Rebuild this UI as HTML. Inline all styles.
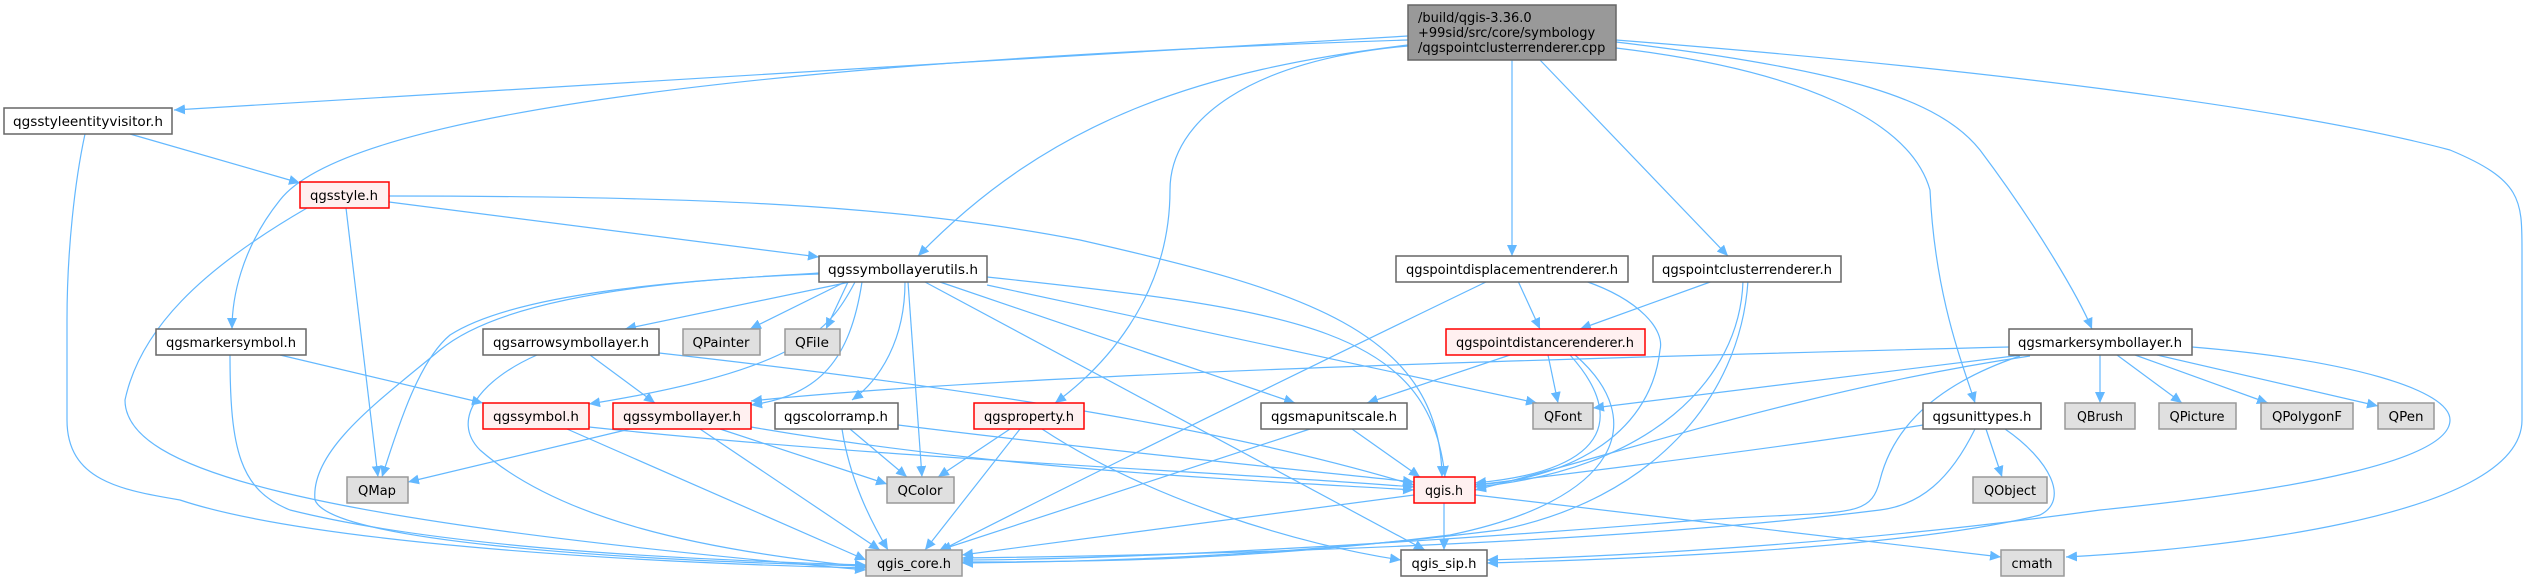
<!DOCTYPE html>
<html><head><meta charset="utf-8"><style>
html,body{margin:0;padding:0;background:#fff;}
svg{display:block;}
text{font-family:"DejaVu Sans","Liberation Sans",sans-serif;font-size:13px;fill:#000;}
.e{fill:none;stroke:#63b8ff;stroke-width:1.2;marker-end:url(#a);}
.n{fill:#fff;stroke:#666;stroke-width:1.5;}
.r{fill:#fff0f0;stroke:#ff0000;stroke-width:1.5;}
.g{fill:#e0e0e0;stroke:#999;stroke-width:1.5;}
</style></head><body>
<svg width="2527" height="579" viewBox="0 0 2527 579" xmlns="http://www.w3.org/2000/svg">
<defs><marker id="a" markerUnits="userSpaceOnUse" markerWidth="12" markerHeight="10" refX="11" refY="5" orient="auto"><path d="M0,0 L11,5 L0,10 z" fill="#63b8ff"/></marker></defs>
<!-- edges -->
<path class="e" d="M1408,36 C1000,60 500,90 174,110"/>
<path class="e" d="M1408,45 C1200,70 1050,120 918,256"/>
<path class="e" d="M1408,40 C800,60 350,110 280,200 C240,250 232,300 232,329"/>
<path class="e" d="M1408,46 C1250,60 1170,120 1170,190 C1170,300 1100,370 1055,403"/>
<path class="e" d="M1512,60 L1512,256"/>
<path class="e" d="M1540,60 L1728,256"/>
<path class="e" d="M1616,48 C1800,70 1910,120 1930,190 C1935,300 1965,370 1975,403"/>
<path class="e" d="M1616,42 C1850,70 1940,100 1980,150 C2040,230 2080,300 2092,329"/>
<path class="e" d="M1616,40 C2000,70 2300,110 2450,150 C2522,180 2522,200 2522,250 L2522,420 C2522,520 2200,550 2066,557"/>
<path class="e" d="M130,134 L300,183"/>
<path class="e" d="M85,134 C75,180 67,250 67,320 L67,420 C67,480 120,490 180,500 C300,540 600,562 866,568"/>
<path class="e" d="M389,202 L819,257"/>
<path class="e" d="M389,196 C700,196 900,205 1080,240 C1300,290 1440,330 1442,477"/>
<path class="e" d="M346,208 L378,477"/>
<path class="e" d="M307,208 C200,270 140,330 125,400 C125,470 300,520 866,570"/>
<path class="e" d="M280,355 L483,403"/>
<path class="e" d="M230,355 C230,450 240,490 290,510 C450,550 700,560 866,565"/>
<path class="e" d="M819,273 C700,280 520,290 450,335 C420,360 400,420 382,477"/>
<path class="e" d="M819,274 C650,280 500,300 440,350 C380,400 310,450 315,500 C330,540 600,560 866,566"/>
<path class="e" d="M850,282 L625,329"/>
<path class="e" d="M845,282 L750,329"/>
<path class="e" d="M848,282 L826,329"/>
<path class="e" d="M855,282 C830,330 800,370 589,404"/>
<path class="e" d="M862,282 C850,360 820,395 751,405"/>
<path class="e" d="M905,282 C905,340 880,380 852,400"/>
<path class="e" d="M908,282 L922,477"/>
<path class="e" d="M940,282 L1295,403"/>
<path class="e" d="M925,282 L1425,550"/>
<path class="e" d="M987,285 L1537,403"/>
<path class="e" d="M987,277 C1300,310 1430,330 1445,477"/>
<path class="e" d="M590,355 L655,403"/>
<path class="e" d="M537,355 C480,380 450,420 480,450 C560,520 700,550 866,567"/>
<path class="e" d="M659,353 C900,380 1200,420 1414,485"/>
<path class="e" d="M567,429 L866,560"/>
<path class="e" d="M589,427 C900,460 1200,470 1414,487"/>
<path class="e" d="M630,429 L408,482"/>
<path class="e" d="M700,429 L880,550"/>
<path class="e" d="M720,429 L887,484"/>
<path class="e" d="M751,427 C1000,470 1250,480 1414,490"/>
<path class="e" d="M850,429 L907,477"/>
<path class="e" d="M842,429 C850,480 870,520 888,550"/>
<path class="e" d="M898,425 C1100,450 1300,470 1414,482"/>
<path class="e" d="M1010,429 L938,477"/>
<path class="e" d="M1020,429 L925,550"/>
<path class="e" d="M1042,429 C1150,500 1300,545 1401,560"/>
<path class="e" d="M1352,429 L1420,477"/>
<path class="e" d="M1310,429 L940,550"/>
<path class="e" d="M1518,281 L1540,329"/>
<path class="e" d="M1488,281 C1200,420 1000,520 938,552"/>
<path class="e" d="M1585,281 C1640,300 1665,330 1660,350 C1650,440 1560,480 1475,485"/>
<path class="e" d="M1713,281 L1580,329"/>
<path class="e" d="M1743,281 C1740,380 1650,470 1475,487"/>
<path class="e" d="M1748,281 C1740,400 1650,500 1500,530 C1300,555 1100,562 962,563"/>
<path class="e" d="M1510,355 L1367,403"/>
<path class="e" d="M1548,355 L1558,403"/>
<path class="e" d="M1570,355 C1620,410 1620,470 1475,483"/>
<path class="e" d="M1575,355 C1650,420 1620,500 1450,535 C1250,560 1100,562 962,562"/>
<path class="e" d="M2009,347 C1500,360 1000,375 751,401"/>
<path class="e" d="M2022,355 L1593,408"/>
<path class="e" d="M2030,356 C1800,390 1600,460 1475,490"/>
<path class="e" d="M2020,356 C1920,390 1890,440 1880,480 C1870,520 1850,510 1700,520 C1400,545 1100,560 962,560"/>
<path class="e" d="M2100,355 L2100,403"/>
<path class="e" d="M2117,355 L2182,403"/>
<path class="e" d="M2135,355 L2268,403"/>
<path class="e" d="M2157,355 L2378,406"/>
<path class="e" d="M2192,347 C2350,360 2450,390 2450,420 C2450,460 2300,490 2100,510 C1850,545 1600,557 1487,560"/>
<path class="e" d="M1923,425 C1800,445 1600,470 1475,485"/>
<path class="e" d="M1986,429 L2002,477"/>
<path class="e" d="M2005,429 C2050,460 2070,500 2040,515 C1900,550 1600,560 1487,563"/>
<path class="e" d="M1975,429 C1950,480 1920,505 1880,510 C1600,545 1200,555 962,558"/>
<path class="e" d="M1414,495 L962,555"/>
<path class="e" d="M1444,503 L1444,550"/>
<path class="e" d="M1475,495 L2001,557"/>
<!-- nodes -->
<rect x="1408" y="5" width="208" height="55" fill="#999" stroke="#666" stroke-width="1.5"/>
<text x="1418" y="22">/build/qgis-3.36.0</text>
<text x="1418" y="37">+99sid/src/core/symbology</text>
<text x="1418" y="52">/qgspointclusterrenderer.cpp</text>
<g text-anchor="middle">
<rect class="n" x="4" y="108" width="168" height="26"/><text x="88" y="126" textLength="150" lengthAdjust="spacingAndGlyphs">qgsstyleentityvisitor.h</text>
<rect class="r" x="300" y="182" width="89" height="26"/><text x="344" y="200" textLength="68" lengthAdjust="spacingAndGlyphs">qgsstyle.h</text>
<rect class="n" x="819" y="256" width="168" height="26"/><text x="903" y="274" textLength="150" lengthAdjust="spacingAndGlyphs">qgssymbollayerutils.h</text>
<rect class="n" x="1396" y="256" width="232" height="26"/><text x="1512" y="274" textLength="212" lengthAdjust="spacingAndGlyphs">qgspointdisplacementrenderer.h</text>
<rect class="n" x="1653" y="256" width="188" height="26"/><text x="1747" y="274" textLength="170" lengthAdjust="spacingAndGlyphs">qgspointclusterrenderer.h</text>
<rect class="n" x="156" y="329" width="150" height="26"/><text x="231" y="347" textLength="130" lengthAdjust="spacingAndGlyphs">qgsmarkersymbol.h</text>
<rect class="n" x="483" y="329" width="176" height="26"/><text x="571" y="347" textLength="156" lengthAdjust="spacingAndGlyphs">qgsarrowsymbollayer.h</text>
<rect class="g" x="683" y="329" width="77" height="26"/><text x="721" y="347" textLength="57" lengthAdjust="spacingAndGlyphs">QPainter</text>
<rect class="g" x="785" y="329" width="55" height="26"/><text x="812" y="347" textLength="34" lengthAdjust="spacingAndGlyphs">QFile</text>
<rect class="r" x="1446" y="329" width="199" height="26"/><text x="1545" y="347" textLength="178" lengthAdjust="spacingAndGlyphs">qgspointdistancerenderer.h</text>
<rect class="n" x="2009" y="329" width="183" height="26"/><text x="2100" y="347" textLength="164" lengthAdjust="spacingAndGlyphs">qgsmarkersymbollayer.h</text>
<rect class="r" x="483" y="403" width="106" height="26"/><text x="536" y="421" textLength="86" lengthAdjust="spacingAndGlyphs">qgssymbol.h</text>
<rect class="r" x="613" y="403" width="138" height="26"/><text x="682" y="421" textLength="118" lengthAdjust="spacingAndGlyphs">qgssymbollayer.h</text>
<rect class="n" x="775" y="403" width="123" height="26"/><text x="836" y="421" textLength="104" lengthAdjust="spacingAndGlyphs">qgscolorramp.h</text>
<rect class="r" x="974" y="403" width="110" height="26"/><text x="1029" y="421" textLength="90" lengthAdjust="spacingAndGlyphs">qgsproperty.h</text>
<rect class="n" x="1261" y="403" width="146" height="26"/><text x="1334" y="421" textLength="126" lengthAdjust="spacingAndGlyphs">qgsmapunitscale.h</text>
<rect class="g" x="1533" y="403" width="60" height="26"/><text x="1563" y="421" textLength="38" lengthAdjust="spacingAndGlyphs">QFont</text>
<rect class="n" x="1923" y="403" width="118" height="26"/><text x="1982" y="421" textLength="99" lengthAdjust="spacingAndGlyphs">qgsunittypes.h</text>
<rect class="g" x="2065" y="403" width="70" height="26"/><text x="2100" y="421" textLength="46" lengthAdjust="spacingAndGlyphs">QBrush</text>
<rect class="g" x="2159" y="403" width="77" height="26"/><text x="2197" y="421" textLength="55" lengthAdjust="spacingAndGlyphs">QPicture</text>
<rect class="g" x="2261" y="403" width="92" height="26"/><text x="2307" y="421" textLength="70" lengthAdjust="spacingAndGlyphs">QPolygonF</text>
<rect class="g" x="2378" y="403" width="56" height="26"/><text x="2406" y="421" textLength="35" lengthAdjust="spacingAndGlyphs">QPen</text>
<rect class="g" x="347" y="477" width="61" height="26"/><text x="377" y="495" textLength="38" lengthAdjust="spacingAndGlyphs">QMap</text>
<rect class="g" x="887" y="477" width="67" height="26"/><text x="920" y="495" textLength="45" lengthAdjust="spacingAndGlyphs">QColor</text>
<rect class="r" x="1414" y="477" width="61" height="26"/><text x="1444" y="495" textLength="38" lengthAdjust="spacingAndGlyphs">qgis.h</text>
<rect class="g" x="1973" y="477" width="74" height="26"/><text x="2010" y="495" textLength="52" lengthAdjust="spacingAndGlyphs">QObject</text>
<rect class="g" x="866" y="550" width="96" height="26"/><text x="914" y="568" textLength="74" lengthAdjust="spacingAndGlyphs">qgis_core.h</text>
<rect class="n" x="1401" y="550" width="86" height="26"/><text x="1444" y="568" textLength="65" lengthAdjust="spacingAndGlyphs">qgis_sip.h</text>
<rect class="g" x="2001" y="550" width="63" height="26"/><text x="2032" y="568" textLength="41" lengthAdjust="spacingAndGlyphs">cmath</text>
</g>
</svg>
</body></html>
